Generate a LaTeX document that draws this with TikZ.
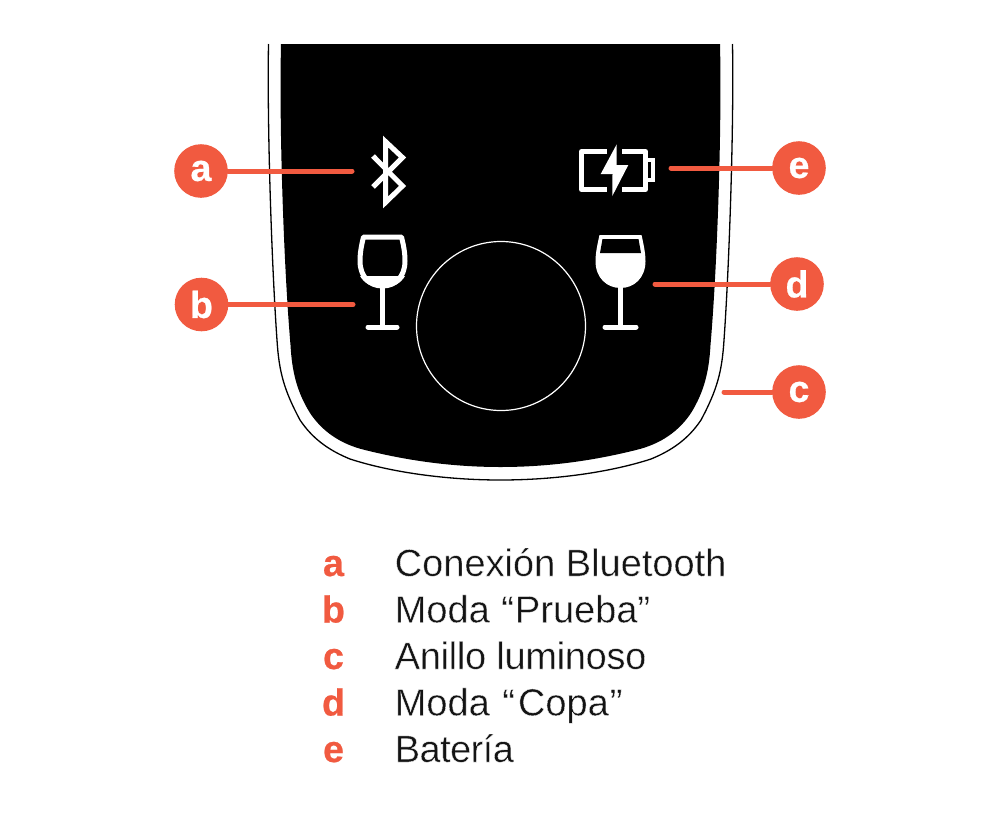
\documentclass[tikz,border=0pt]{standalone}
\usepackage{fontspec}
\setmainfont{Liberation Sans}
\newfontfamily\heavyfont[FakeBold=0.6]{Liberation Sans Bold}
\definecolor{accent}{HTML}{F15A40}
\newcommand{\thintext}[1]{\special{pdf:code q 2 Tr 0.35 w 1 1 1 RG}#1\special{pdf:code Q}}
\tikzset{
  x=1pt,y=-1pt,
  callout/.style={circle,fill=accent,text=white,minimum size=53.6pt,inner sep=0pt,font=\fontsize{37.5}{37}\heavyfont},
  leader/.style={draw=accent,line width=5pt,line cap=round},
  icon/.style={draw=white,line width=5pt,line join=miter},
  keyletter/.style={anchor=base,text=accent,inner sep=0pt,font=\fontsize{37.5}{37}\heavyfont},
  keytext/.style={anchor=base west,inner sep=0pt,font=\fontsize{38}{38}\selectfont,text=black!92},
}
\begin{document}
\begin{tikzpicture}
\useasboundingbox (0,0) rectangle (1000,830);
\fill[white] (0,0) rectangle (1000,830);
% outline
\draw[black,line width=1.3pt]
  (268.5,44) .. controls (267,130) and (272,270) .. (277,340)
  .. controls (279,372) and (284,390) .. (300,420)
  .. controls (312,438) and (328,450) .. (350,459)
  .. controls (390,472) and (445,480) .. (500.5,480)
  .. controls (556,480) and (611,472) .. (651,459)
  .. controls (673,450) and (689,438) .. (701,420)
  .. controls (717,390) and (722,372) .. (724,340)
  .. controls (729,270) and (734,130) .. (732.5,44);
% body
\fill[black]
  (281,44) .. controls (279,130) and (284,270) .. (290.5,345)
  .. controls (292,372) and (297,392) .. (310,413)
  .. controls (322,431) and (340,444) .. (365,450)
  .. controls (405,460) and (450,467) .. (500.5,467)
  .. controls (551,467) and (596,460) .. (636,450)
  .. controls (661,444) and (679,431) .. (691,413)
  .. controls (704,392) and (709,372) .. (710.5,345)
  .. controls (717,270) and (722,130) .. (720,44) -- cycle;
% ring
\node[circle,draw=white,line width=1.2pt,minimum size=169pt,inner sep=0pt] (ring) at (501,326) {};
% bluetooth
\draw[icon] (373,156) -- (402.5,186) -- (385.5,202.5) -- (385.5,141.5) -- (402.5,157.5) -- (373,187);
% left glass
\draw[icon,line join=round] (363.5,237) -- (401.5,237) .. controls (404,247) and (405,254) .. (405,261)
  .. controls (405,277) and (395,286) .. (382.5,286)
  .. controls (370,286) and (360,277) .. (360,261)
  .. controls (360,254) and (361,247) .. (363.5,237) -- cycle;
\fill[white] (360,276) -- (405,276) .. controls (401,283) and (393,288) .. (382.5,288) .. controls (372,288) and (364,283) .. (360,276) -- cycle;
\draw[icon] (382.5,286) -- (382.5,327);
\draw[icon,line cap=round] (368,327) -- (397,327);
% right glass
\fill[white] (599.5,235) -- (641.5,235) .. controls (644,246) and (645.5,254) .. (645.5,261)
  .. controls (645.5,278) and (634,288) .. (620.5,288)
  .. controls (607,288) and (595.5,278) .. (595.5,261)
  .. controls (595.5,254) and (597,246) .. (599.5,235) -- cycle;
\fill[black] (602.5,239) -- (638.5,239) -- (641,253) -- (600,253) -- cycle;
\draw[icon] (620.5,286) -- (620.5,327);
\draw[icon,line cap=round] (605,327) -- (636,327);
% battery
\draw[icon,line join=round] (607,151.5) -- (581.5,151.5) -- (581.5,189.5) -- (607,189.5);
\draw[icon,line join=round] (622,151.5) -- (645.5,151.5) -- (645.5,189.5) -- (622,189.5);
\draw[white,line width=3.8pt] (648,160) -- (653,160) -- (653,180) -- (648,180);
\fill[white] (616.7,144.3) -- (600.7,174) -- (612.5,174) -- (612.3,196) -- (628.3,165) -- (616.7,165) -- cycle;
% callouts
\node[callout] (a) at (201,171) {a};
\node[callout] (b) at (201.5,304.5) {b};
\node[callout] (c) at (799,392) {c};
\node[callout] (d) at (797,284) {d};
\node[callout] (e) at (799,168) {e};
\coordinate (aend) at (352,171);
\coordinate (bend) at (353,304.5);
\coordinate (cend) at (724,392);
\coordinate (dend) at (655,284);
\coordinate (eend) at (671,168);
\draw[leader] (a) -- (aend);
\draw[leader] (b) -- (bend);
\draw[leader] (c) -- (cend);
\draw[leader] (d) -- (dend);
\draw[leader] (e) -- (eend);
% legend
\node[keyletter] (ka) at (333.5,576) {a};
\node[keyletter] (kb) at (333.5,622.5) {b};
\node[keyletter] (kc) at (333.5,669) {c};
\node[keyletter] (kd) at (333.5,715.5) {d};
\node[keyletter] (ke) at (333.5,762) {e};
\node[keytext] (ta) at (394.5,576) {\thintext{Conexión Bluetooth}};
\node[keytext] (tb) at (394.5,622.5) {\thintext{Moda\hspace{1pt} “\hspace{1pt}Prueba”}};
\node[keytext] (tc) at (394.5,669) {\addfontfeature{LetterSpace=-0.8}\thintext{Anillo luminoso}};
\node[keytext] (td) at (394.5,715.5) {\thintext{Moda\hspace{2pt} “\hspace{3pt}Copa\hspace{1pt}”}};
\node[keytext] (te) at (394.5,762) {\addfontfeature{LetterSpace=-1.5}\thintext{Batería}};
\end{tikzpicture}
\end{document}
